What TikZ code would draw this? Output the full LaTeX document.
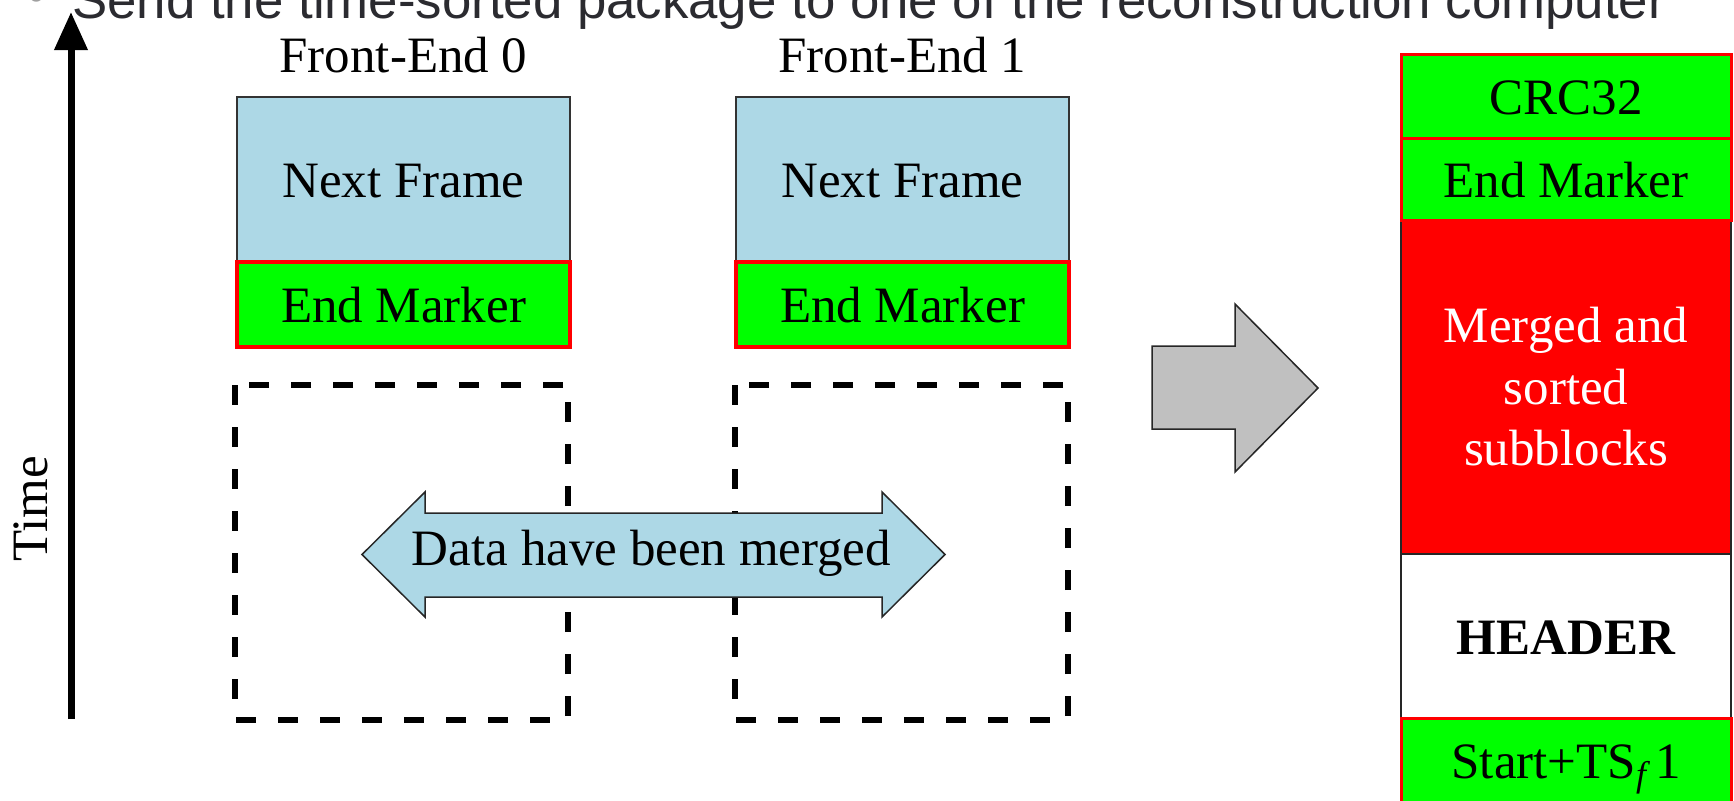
\documentclass[tikz,border=0pt]{standalone}
\usepackage{fontspec}
\setmainfont{Liberation Serif}
\newfontfamily\slidesans{Liberation Sans}
\usetikzlibrary{arrows.meta}
\definecolor{frameblue}{HTML}{ADD8E6}
\definecolor{markgreen}{HTML}{00FF00}
\definecolor{markred}{HTML}{FF0000}
\definecolor{arrowgrey}{HTML}{C0C0C0}
\definecolor{slidetext}{HTML}{2B2B30}
\definecolor{bulletgrey}{HTML}{A0A0A0}
\tikzset{
  every node/.style={font=\fontsize{25.5pt}{30.75pt}\selectfont, inner sep=0pt},
  lbl/.style={text height=18pt, text depth=0pt},
  framebox/.style={lbl, draw=black!80, line width=0.75pt, fill=frameblue},
  markerbox/.style={lbl, draw=markred, line width=2pt, fill=markgreen},
  stackmark/.style={lbl, draw=markred, line width=1.5pt, fill=markgreen,
    minimum width=165pt},
  stackplain/.style={draw=black!85, line width=1pt, minimum width=165pt},
  mergezone/.style={draw=black, line width=2.7pt, dash pattern=on 10pt off 11pt},
  blockarrow/.style={draw=black!85, line width=0.75pt, line join=miter},
  slidefont/.style={font=\slidesans\fontsize{26.4pt}{32pt}\selectfont},
}
\begin{document}
\begin{tikzpicture}[x=0.5pt, y=-0.5pt]
\useasboundingbox (0,0) rectangle (1734,800);
\clip (0,0) rectangle (1734,800);

% slide bullet line running off the top edge
\node[anchor=base west, text=bulletgrey, slidefont] (bul) at (27,12) {•};
\node[anchor=base west, text=slidetext, slidefont] (slide) at (72,18)
  {Send the time-sorted package to one of the reconstruction computer};

% time axis
\coordinate (tbot) at (71,719);
\coordinate (ttop) at (71,12);
\draw[line width=3.5pt, -{Triangle[width=16pt, length=19pt]}] (tbot) -- (ttop);
\node[rotate=90, anchor=base] (time) at (47,509) {Time};

% front-end columns
\node[anchor=base] (fe0) at (403.5,72) {Front-End 0};
\node[anchor=base] (fe1) at (902.5,72) {Front-End 1};

\node[framebox, minimum width=166.5pt, minimum height=82.5pt] (next0) at (403.5,179.5) {Next Frame};
\node[framebox, minimum width=166.5pt, minimum height=82.5pt] (next1) at (902.5,179.5) {Next Frame};
\node[markerbox, minimum width=166.5pt, minimum height=42.5pt] (end0) at (403.5,304.5) {End Marker};
\node[markerbox, minimum width=166.5pt, minimum height=42.5pt] (end1) at (902.5,304.5) {End Marker};

% already merged regions
\draw[mergezone] (235,385) rectangle (568,720);
\draw[mergezone] (735,385) rectangle (1068,720);

% double block arrow
\draw[blockarrow, fill=frameblue]
  (362,554.5) -- (425,492) -- (425,513) -- (882,513) -- (882,492) -- (945,554.5)
  -- (882,617) -- (882,597) -- (425,597) -- (425,617) -- cycle;
\node[lbl] (merged) at (651.5,547) {Data have been merged};

% output arrow
\draw[blockarrow, fill=arrowgrey]
  (1152,346) -- (1235,346) -- (1235,304) -- (1318,388) -- (1235,472)
  -- (1235,429) -- (1152,429) -- cycle;

% output package
\node[stackplain, fill=markred, text=white, align=center, minimum height=167pt] (sub) at (1566,387)
  {Merged and\\sorted\\subblocks};
\node[stackplain, lbl, fill=white, minimum height=82pt, font=\fontsize{25.5pt}{30.75pt}\selectfont\bfseries] (head) at (1566,636) {HEADER};
\node[stackmark, minimum height=42pt] (crc) at (1566,96) {CRC32};
\node[stackmark, minimum height=41pt] (pend) at (1566,179) {End Marker};
\node[stackmark, minimum height=42pt] (start) at (1566,760) {Start+TS\textsubscript{\itshape f}\kern4pt 1};
\end{tikzpicture}
\end{document}
